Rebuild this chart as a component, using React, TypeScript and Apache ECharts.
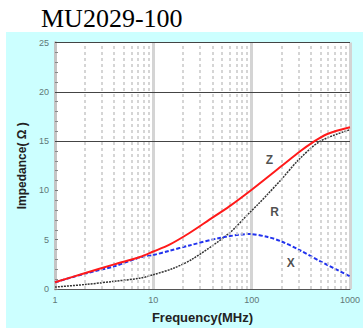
import React, { useEffect, useRef } from "react";
import * as echarts from "echarts";

const titleText = "MU2029-100";
const xAxisName = "Frequency(MHz)";
const yAxisName = "Impedance( Ω )";

const zFreq = [1, 2, 4, 7.3, 10, 14.6, 23.3, 37.2, 59.3, 100, 209, 309, 422, 580, 1000];
const zVal = [0.68, 1.6, 2.5, 3.25, 3.8, 4.5, 5.68, 7.03, 8.38, 10.07, 12.6, 13.95, 14.9, 15.7, 16.4];

const rFreq = [1, 2, 4, 7.3, 10, 16, 25.3, 59.3, 95, 115, 145, 200, 300, 500, 1000];
const rVal = [0.2, 0.45, 0.78, 1.1, 1.45, 2.1, 3.07, 5.68, 7.73, 8.55, 9.6, 11.1, 13.1, 15.0, 16.15];

const xFreq = [1, 2, 4, 7.3, 10, 14.6, 23.3, 47, 95, 146, 200, 300, 500, 1000];
const xVal = [0.68, 1.55, 2.3, 3.2, 3.45, 3.88, 4.42, 5.17, 5.58, 5.27, 4.83, 4.0, 2.8, 1.28];

const minorFreqs = [
  2, 3, 4, 5, 6, 7, 8, 9,
  20, 30, 40, 50, 60, 70, 80, 90,
  200, 300, 400, 500, 600, 700, 800, 900,
];
const darkGridY = [15, 20, 25];

// label anchors in data coordinates [freq, impedance, text]
const curveLabels: [number, number, string][] = [
  [152, 13.1, "Z"],
  [171, 7.8, "R"],
  [250, 2.6, "X"],
];

export default function App() {
  const ref = useRef<HTMLDivElement>(null);
  useEffect(() => {
    if (!ref.current) return;
    const chart = echarts.init(ref.current, null, { renderer: "svg" });
    const pair = (xs: number[], ys: number[]) => xs.map((x, i) => [x, ys[i]]);
    chart.setOption({
      animation: false,
      backgroundColor: "#ffffff",
      title: {
        text: titleText,
        left: 36,
        top: 0,
        textStyle: {
          fontFamily: "Liberation Serif",
          fontSize: 26,
          fontWeight: "normal",
          color: "#000",
        },
      },
      graphic: [
        {
          type: "rect",
          z: -10,
          shape: { x: 6, y: 32, width: 357, height: 296 },
          style: { fill: "#ccffff" },
          silent: true,
        },
      ],
      grid: {
        left: 55,
        right: 13,
        top: 42.5,
        bottom: 39.5,
        show: true,
        backgroundColor: "#ffffff",
        borderWidth: 0,
      },
      xAxis: {
        type: "log",
        logBase: 10,
        min: 1,
        max: 1000,
        name: xAxisName,
        nameLocation: "middle",
        nameGap: 22,
        nameTextStyle: {
          fontFamily: "Liberation Sans",
          fontWeight: "bold",
          fontSize: 13,
          color: "#222",
        },
        axisLine: { show: true, lineStyle: { color: "#555", width: 1 } },
        axisTick: { show: false },
        axisLabel: {
          fontFamily: "Liberation Sans",
          fontSize: 9,
          color: "#607878",
          margin: 6,
          formatter: (v: number) => String(Math.round(v)),
        },
        splitLine: {
          show: true,
          lineStyle: { color: "#d4d4d4", width: 3 },
        },
      },
      yAxis: {
        type: "value",
        min: 0,
        max: 25,
        interval: 5,
        name: yAxisName,
        nameLocation: "middle",
        nameRotate: 90,
        nameGap: 24,
        nameTextStyle: {
          fontFamily: "Liberation Sans",
          fontWeight: "bold",
          fontSize: 12,
          color: "#222",
        },
        axisLine: { show: true, lineStyle: { color: "#c4c4c4", width: 3 } },
        axisTick: { show: true, inside: true, length: 3, lineStyle: { color: "#777" } },
        minorTick: { show: true, splitNumber: 5, length: 3, lineStyle: { color: "#888" } },
        axisLabel: {
          fontFamily: "Liberation Sans",
          fontSize: 9,
          color: "#607878",
          margin: 6,
        },
        splitLine: { show: false },
      },
      series: [
        {
          name: "grid",
          type: "line",
          data: [],
          silent: true,
          z: 1,
          markLine: {
            silent: true,
            symbol: "none",
            label: { show: false },
            animation: false,
            lineStyle: { color: "#c8c8c8", width: 1.5, type: [3, 3] },
            data: minorFreqs.map((v) => ({ xAxis: v })),
          },
        },
        {
          name: "hgrid",
          type: "line",
          data: [],
          silent: true,
          z: 2,
          markLine: {
            silent: true,
            symbol: "none",
            label: { show: false },
            animation: false,
            lineStyle: { color: "#444", width: 1, type: "solid" },
            data: darkGridY.map((v) => ({ yAxis: v })),
          },
        },
        {
          name: "R",
          type: "line",
          data: pair(rFreq, rVal),
          smooth: 0.3,
          showSymbol: false,
          z: 3,
          lineStyle: { color: "#333", width: 1.5, type: [2, 1] },
        },
        {
          name: "X",
          type: "line",
          data: pair(xFreq, xVal),
          smooth: 0.3,
          showSymbol: false,
          z: 4,
          lineStyle: { color: "#2233ee", width: 2, type: [4, 2] },
        },
        {
          name: "Z",
          type: "line",
          data: pair(zFreq, zVal),
          smooth: 0.3,
          showSymbol: false,
          z: 5,
          lineStyle: { color: "#ff1a1a", width: 2 },
        },
        {
          name: "labels",
          type: "scatter",
          symbolSize: 0,
          z: 6,
          data: curveLabels.map((l) => ({ value: [l[0], l[1]], name: l[2] })),
          label: {
            show: true,
            position: "inside",
            formatter: (p: any) => p.name,
            fontFamily: "Liberation Sans",
            fontWeight: "bold",
            fontSize: 12,
            color: "#222",
          },
        },
      ],
    });
    return () => chart.dispose();
  }, []);
  return (
    <div
      ref={ref}
      style={{ position: "fixed", left: 0, top: 0, width: 363, height: 329 }}
    />
  );
}
